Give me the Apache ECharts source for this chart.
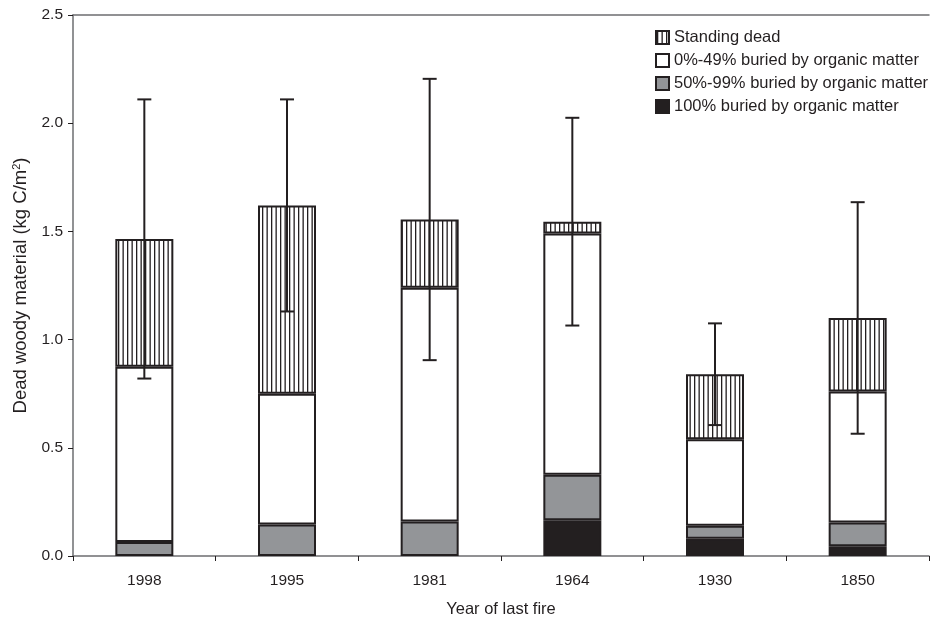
<!DOCTYPE html>
<html>
<head>
<meta charset="utf-8">
<script src="https://cdn.jsdelivr.net/npm/echarts@6/dist/echarts.min.js"></script>
<style>html,body{margin:0;padding:0;background:#fff}#c{width:930px;height:623px}</style>
</head>
<body>
<div id="c"></div>
<script>
const years = ['1998', '1995', '1981', '1964', '1930', '1850'];
const buried100 = [0, 0, 0, 0.165, 0.08, 0.045];
const buried50 = [0.065, 0.145, 0.16, 0.21, 0.06, 0.11];
const buried0 = [0.81, 0.605, 1.08, 1.115, 0.40, 0.605];
const standingDead = [0.59, 0.87, 0.315, 0.055, 0.30, 0.34];
const errorHalf = [0.645, 0.49, 0.65, 0.48, 0.235, 0.535];

const totals = years.map((_, i) => buried100[i] + buried50[i] + buried0[i] + standingDead[i]);
const errData = years.map((_, i) => [i, totals[i] - errorHalf[i], totals[i] + errorHalf[i]]);
const noZero = arr => arr.map(v => v === 0 ? '-' : v);

const ink = '#231f20';
const pc = document.createElement('canvas');
pc.width = 9; pc.height = 10;
const g = pc.getContext('2d');
g.fillStyle = '#fff'; g.fillRect(0, 0, 9, 10);
g.fillStyle = '#231f20';
g.fillRect(1, 0, 1.3, 10);
g.fillRect(5.5, 0, 1.3, 10);

const font = 'Liberation Sans, Arial, sans-serif';
const chart = echarts.init(document.getElementById('c'), null, {renderer: 'canvas'});
const barStyle = (color) => ({color: color, borderColor: ink, borderWidth: 2});

chart.setOption({
  animation: false,
  textStyle: {fontFamily: font, color: ink},
  grid: {left: 73, right: 1, top: 15, bottom: 67},
  legend: {
    orient: 'vertical', left: 655, top: 29, padding: 0, icon: 'rect',
    itemWidth: 13, itemHeight: 13, itemGap: 6,
    textStyle: {fontSize: 16.5, color: ink, fontFamily: font},
    data: ['Standing dead', '0%-49% buried by organic matter', '50%-99% buried by organic matter', '100% buried by organic matter']
  },
  xAxis: [{
    type: 'category', data: years,
    name: 'Year of last fire', nameLocation: 'middle', nameGap: 45,
    nameTextStyle: {fontSize: 16.5, color: ink, fontFamily: font},
    axisLine: {lineStyle: {color: '#6d6e70', width: 1.5}},
    axisTick: {show: true, length: 5, lineStyle: {color: ink}},
    axisLabel: {fontSize: 15.5, color: ink, margin: 17, fontFamily: font}
  }, {
    type: 'category', data: years, position: 'top',
    axisLine: {show: true, onZero: false, lineStyle: {color: '#6d6e70', width: 1.5}},
    axisTick: {show: false}, axisLabel: {show: false}
  }],
  yAxis: {
    type: 'value', min: 0, max: 2.5, interval: 0.5,
    name: 'Dead woody material (kg C/m{sup|2})', nameLocation: 'middle', nameGap: 43, nameRotate: 90,
    nameTextStyle: {fontSize: 18.5, color: ink, fontFamily: font, rich: {sup: {fontSize: 11, color: ink, fontFamily: font, verticalAlign: 'top', padding: [0, 0, 8, 0]}}},
    axisLine: {show: true, lineStyle: {color: '#6d6e70', width: 1.5}},
    axisTick: {show: true, length: 5, lineStyle: {color: ink}},
    splitLine: {show: false},
    axisLabel: {fontSize: 15.5, color: ink, margin: 10, fontFamily: font, formatter: v => v.toFixed(1)}
  },
  series: [
    {name: '100% buried by organic matter', type: 'bar', stack: 's', barWidth: 58, data: noZero(buried100), itemStyle: barStyle(ink)},
    {name: '50%-99% buried by organic matter', type: 'bar', stack: 's', barWidth: 58, data: noZero(buried50), itemStyle: barStyle('#939598')},
    {name: '0%-49% buried by organic matter', type: 'bar', stack: 's', barWidth: 58, data: noZero(buried0), itemStyle: barStyle('#ffffff')},
    {name: 'Standing dead', type: 'bar', stack: 's', barWidth: 58, data: noZero(standingDead), itemStyle: barStyle({image: pc, repeat: 'repeat'})},
    {
      name: 'err', type: 'custom', data: errData, z: 10,
      renderItem: function (params, api) {
        const x = api.value(0);
        const lo = api.coord([x, api.value(1)]);
        const hi = api.coord([x, api.value(2)]);
        const hw = 7;
        const st = {stroke: ink, lineWidth: 2};
        return {type: 'group', children: [
          {type: 'line', shape: {x1: lo[0], y1: lo[1], x2: hi[0], y2: hi[1]}, style: st},
          {type: 'line', shape: {x1: lo[0] - hw, y1: lo[1], x2: lo[0] + hw, y2: lo[1]}, style: st},
          {type: 'line', shape: {x1: hi[0] - hw, y1: hi[1], x2: hi[0] + hw, y2: hi[1]}, style: st}
        ]};
      }
    }
  ]
});
</script>
</body>
</html>
